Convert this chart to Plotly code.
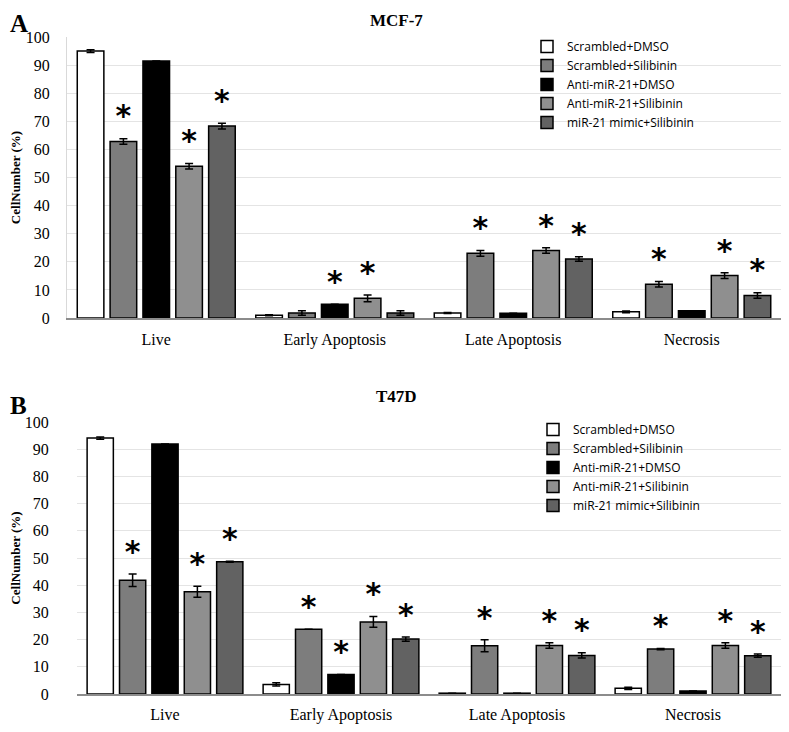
import plotly.graph_objects as go

categories = ["Live", "Early Apoptosis", "Late Apoptosis", "Necrosis"]
series_names = ["Scrambled+DMSO", "Scrambled+Silibinin", "Anti-miR-21+DMSO",
                "Anti-miR-21+Silibinin", "miR-21 mimic+Silibinin"]

# Panel A: MCF-7
mcf7_values = [
    [95.0, 1.0, 1.8, 2.2],
    [62.8, 1.8, 23.0, 12.0],
    [91.5, 4.9, 1.7, 2.6],
    [54.0, 7.0, 24.0, 15.1],
    [68.3, 1.8, 21.0, 8.0],
]
mcf7_errors = [
    [0.5, 0.2, 0.2, 0.3],
    [1.0, 0.8, 1.0, 1.0],
    [0.0, 0.0, 0.0, 0.0],
    [1.0, 1.2, 1.0, 1.0],
    [1.0, 0.8, 0.8, 1.0],
]
mcf7_sig = [
    [False, False, False, False],
    [True, False, True, True],
    [False, True, False, False],
    [True, True, True, True],
    [True, False, True, True],
]

# Panel B: T47D
t47d_values = [
    [94.1, 3.5, 0.3, 2.1],
    [41.8, 23.8, 17.7, 16.5],
    [91.9, 7.2, 0.3, 1.1],
    [37.6, 26.5, 17.8, 17.8],
    [48.6, 20.2, 14.2, 14.1],
]
t47d_errors = [
    [0.4, 0.6, 0.0, 0.4],
    [2.3, 0.0, 2.2, 0.2],
    [0.0, 0.0, 0.0, 0.0],
    [2.0, 2.0, 1.0, 1.0],
    [0.2, 0.8, 1.0, 0.6],
]
t47d_sig = [
    [False, False, False, False],
    [True, True, True, True],
    [False, True, False, False],
    [True, True, True, True],
    [True, True, True, True],
]

colors = ["#ffffff", "#7d7d7d", "#000000", "#8f8f8f", "#626262"]

SERIF = "Liberation Serif"
SANS = "Open Sans"

fig = go.Figure()


def add_panel(values, errors, sig, xa, ya, legend, pfx):
    for i, name in enumerate(series_names):
        fig.add_trace(go.Bar(
            x=categories, y=values[i], name=name,
            marker=dict(color=colors[i], line=dict(color="#000000", width=1.5)),
            error_y=dict(type="data", array=errors[i], color="#000000",
                         thickness=1.5, width=4),
            xaxis=xa, yaxis=ya, legend=legend,
            offsetgroup=f"{pfx}{i}", alignmentgroup=pfx,
        ))
    for i, name in enumerate(series_names):
        ys = [v + e for v, e in zip(values[i], errors[i])]
        txt = ["<b>*</b>" if s else "" for s in sig[i]]
        fig.add_trace(go.Scatter(
            x=categories, y=ys, text=txt, mode="markers+text",
            textposition="top center",
            marker=dict(size=6, opacity=0),
            textfont=dict(family="DejaVu Sans", size=30, color="#000000"),
            xaxis=xa, yaxis=ya, showlegend=False, hoverinfo="skip",
            offsetgroup=f"{pfx}{i}", alignmentgroup=pfx,
        ))


add_panel(mcf7_values, mcf7_errors, mcf7_sig, "x", "y", "legend", "a")
add_panel(t47d_values, t47d_errors, t47d_sig, "x2", "y2", "legend2", "b")

# page has an 8px body margin; the figure is sized to fill the rest
OFF = 8
W, H = 789 - 2 * OFF, 732 - 2 * OFF


def px(x):
    return min(1.0, max(0.0, (x - OFF) / W))


def py(y):
    return min(1.0, max(0.0, 1 - (y - OFF) / H))


def yaxis_style(label_gap, title_gap):
    return dict(range=[0, 100], dtick=10, showgrid=True, gridcolor="#e4e4e4",
                gridwidth=1, zeroline=False, ticks="outside", ticklen=label_gap,
                tickcolor="rgba(0,0,0,0)", automargin=False,
                tickfont=dict(family=SERIF, size=16, color="#000000"),
                title=dict(text="<b>CellNumber (%)</b>",
                           font=dict(family=SERIF, size=13, color="#000000"),
                           standoff=title_gap))


def xaxis_style(label_gap):
    return dict(showline=True, linecolor="#8c8c8c", linewidth=1.5,
                ticks="outside", ticklen=label_gap, tickcolor="rgba(0,0,0,0)",
                automargin=False,
                tickfont=dict(family=SERIF, size=16, color="#000000"),
                showgrid=False)


legend_common = dict(font=dict(family=SANS, size=12, color="#000000"),
                     bgcolor="rgba(0,0,0,0)", xanchor="left", yanchor="top",
                     itemwidth=30, tracegroupgap=0)

fig.update_layout(
    width=W, height=H,
    margin=dict(l=0, r=0, t=0, b=0, autoexpand=False),
    paper_bgcolor="white", plot_bgcolor="white",
    barmode="group", bargap=0.08, bargroupgap=0.19,
    scattermode="group", scattergap=0.08,
    xaxis=dict(domain=[px(67), px(786)], anchor="y", **xaxis_style(6)),
    yaxis=dict(domain=[py(318), py(37)], anchor="x", showline=True,
               linecolor="#d9d9d9", linewidth=1, **yaxis_style(13, 8)),
    xaxis2=dict(domain=[px(77), px(785)], anchor="y2", **xaxis_style(5)),
    yaxis2=dict(domain=[py(694), py(422)], anchor="x2", **yaxis_style(24, 10)),
    legend=dict(x=px(527), y=py(32), **legend_common),
    legend2=dict(x=px(533), y=py(415), **legend_common),
    showlegend=True,
    annotations=[
        dict(text="<b>A</b>", x=px(8), y=py(8), xref="paper", yref="paper",
             xanchor="left", yanchor="top", showarrow=False,
             font=dict(family=SERIF, size=25, color="#000000")),
        dict(text="<b>MCF-7</b>", x=px(396), y=py(9), xref="paper", yref="paper",
             xanchor="center", yanchor="top", showarrow=False,
             font=dict(family=SERIF, size=17, color="#000000")),
        dict(text="<b>B</b>", x=px(8), y=py(390), xref="paper", yref="paper",
             xanchor="left", yanchor="top", showarrow=False,
             font=dict(family=SERIF, size=25, color="#000000")),
        dict(text="<b>T47D</b>", x=px(396), y=py(396), xref="paper", yref="paper",
             xanchor="center", yanchor="middle", showarrow=False,
             font=dict(family=SERIF, size=17, color="#000000")),
    ],
)

fig.write_html("out.html")
